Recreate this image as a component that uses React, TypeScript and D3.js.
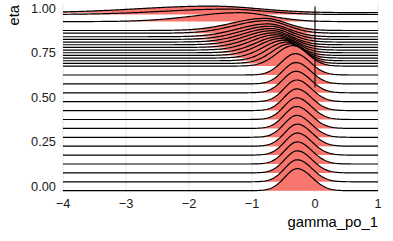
import * as d3 from 'd3';

const W = 393;
const H = 241;

// ridge positions (eta) and shape
const etas = [
  0, 0.05, 0.1, 0.15, 0.2, 0.25, 0.3, 0.35, 0.4, 0.45, 0.5, 0.55, 0.6, 0.65,
  0.7, 0.715, 0.73, 0.745, 0.76, 0.775, 0.79, 0.805, 0.82, 0.835, 0.85, 0.865, 0.885, 0.9,
  0.95, 0.99, 1.0,
];
// mode of gamma_po_1 for each ridge
const modes = [
  -0.28, -0.28, -0.28, -0.28, -0.28, -0.28, -0.29, -0.29, -0.29, -0.29, -0.29, -0.3, -0.3, -0.31,
  -0.35, -0.4, -0.45, -0.5, -0.55, -0.58, -0.62, -0.65, -0.68, -0.7, -0.72, -0.75, -0.78, -0.8,
  -1.2, -1.4, -1.65,
];
const spreadLeft = [
  0.2, 0.2, 0.2, 0.2, 0.2, 0.2, 0.2, 0.2, 0.2, 0.2, 0.2, 0.21, 0.21, 0.22,
  0.26, 0.28, 0.3, 0.32, 0.34, 0.36, 0.38, 0.4, 0.42, 0.44, 0.46, 0.48, 0.5, 0.52,
  0.75, 1.0, 1.15,
];
const spreadRight = [
  0.23, 0.23, 0.23, 0.23, 0.23, 0.23, 0.23, 0.23, 0.23, 0.23, 0.23, 0.23, 0.23, 0.23,
  0.23, 0.24, 0.25, 0.26, 0.27, 0.28, 0.29, 0.3, 0.3, 0.31, 0.32, 0.33, 0.34, 0.35,
  0.5, 0.6, 0.75,
];
// peak height in eta units
const peaks = [
  0.124, 0.124, 0.124, 0.124, 0.124, 0.124, 0.123, 0.123, 0.122, 0.122, 0.122, 0.121, 0.12, 0.12,
  0.115, 0.11, 0.105, 0.1, 0.095, 0.09, 0.086, 0.082, 0.079, 0.076, 0.074, 0.072, 0.07, 0.068,
  0.05, 0.03, 0.037,
];

const xTicks = [-4, -3, -2, -1, 0, 1];
const yTicks = [0, 0.25, 0.5, 0.75, 1];
const vlineRange = [0.58, 1.035];

const font = "'Liberation Sans', Arial, Helvetica, sans-serif";

export default function App() {
  const x = d3.scaleLinear().domain([-4, 1]).range([63, 378]);
  const y = d3.scaleLinear().domain([0, 1]).range([190.7, 12.7]);

  const grid = d3.range(-4, 1.0001, 0.02);

  const ridges = etas.map((eta, i) => {
    const pts = grid.map(g => {
      const s = g < modes[i] ? spreadLeft[i] : spreadRight[i];
      const z = (g - modes[i]) / s;
      return { g, h: peaks[i] * Math.exp(-0.5 * z * z) };
    });
    return { eta, pts };
  });

  const area = (eta: number) =>
    d3.area<{ g: number; h: number }>()
      .x(d => x(d.g))
      .y0(y(eta))
      .y1(d => y(eta + d.h));
  const line = (eta: number) =>
    d3.line<{ g: number; h: number }>()
      .x(d => x(d.g))
      .y(d => y(eta + d.h));

  // draw from top to bottom so lower ridges sit in front
  const order = ridges.slice().reverse();

  return (
    <svg width={W} height={H} style={{ position: 'absolute', left: 0, top: 0, background: '#fff' }}>
      {/* grid */}
      {xTicks.map(t => (
        <line key={'gx' + t} x1={x(t)} x2={x(t)} y1={3} y2={192} stroke="#e6e6e6" strokeWidth={1} />
      ))}
      {yTicks.map(t => (
        <line key={'gy' + t} x1={60} x2={378} y1={y(t)} y2={y(t)} stroke="#e6e6e6" strokeWidth={1} />
      ))}

      {order.map(r => (
        <g key={r.eta}>
          <path d={area(r.eta)(r.pts) || ''} fill="#F8766D" stroke="none" />
          <path d={line(r.eta)(r.pts) || ''} fill="none" stroke="#000" strokeWidth={1.2} />
        </g>
      ))}

      <line x1={x(0)} x2={x(0)} y1={y(vlineRange[0])} y2={y(vlineRange[1])} stroke="#000" strokeWidth={1.1} />

      {/* y axis labels */}
      {yTicks.map(t => (
        <text key={'yl' + t} x={56} y={y(t)} textAnchor="end" fontFamily={font} fontSize={12.8} fill="#1a1a1a">
          {t.toFixed(2)}
        </text>
      ))}
      {/* x axis labels */}
      {xTicks.map(t => (
        <text key={'xl' + t} x={x(t)} y={208} textAnchor="middle" fontFamily={font} fontSize={12.8} fill="#1a1a1a">
          {t < 0 ? '\u2212' + Math.abs(t) : String(t)}
        </text>
      ))}

      <text x={378} y={227} textAnchor="end" fontFamily={font} fontSize={14.8} fill="#000">gamma_po_1</text>
      <text transform="translate(19,5) rotate(-90)" textAnchor="end" fontFamily={font} fontSize={14.8} fill="#000">eta</text>
    </svg>
  );
}
